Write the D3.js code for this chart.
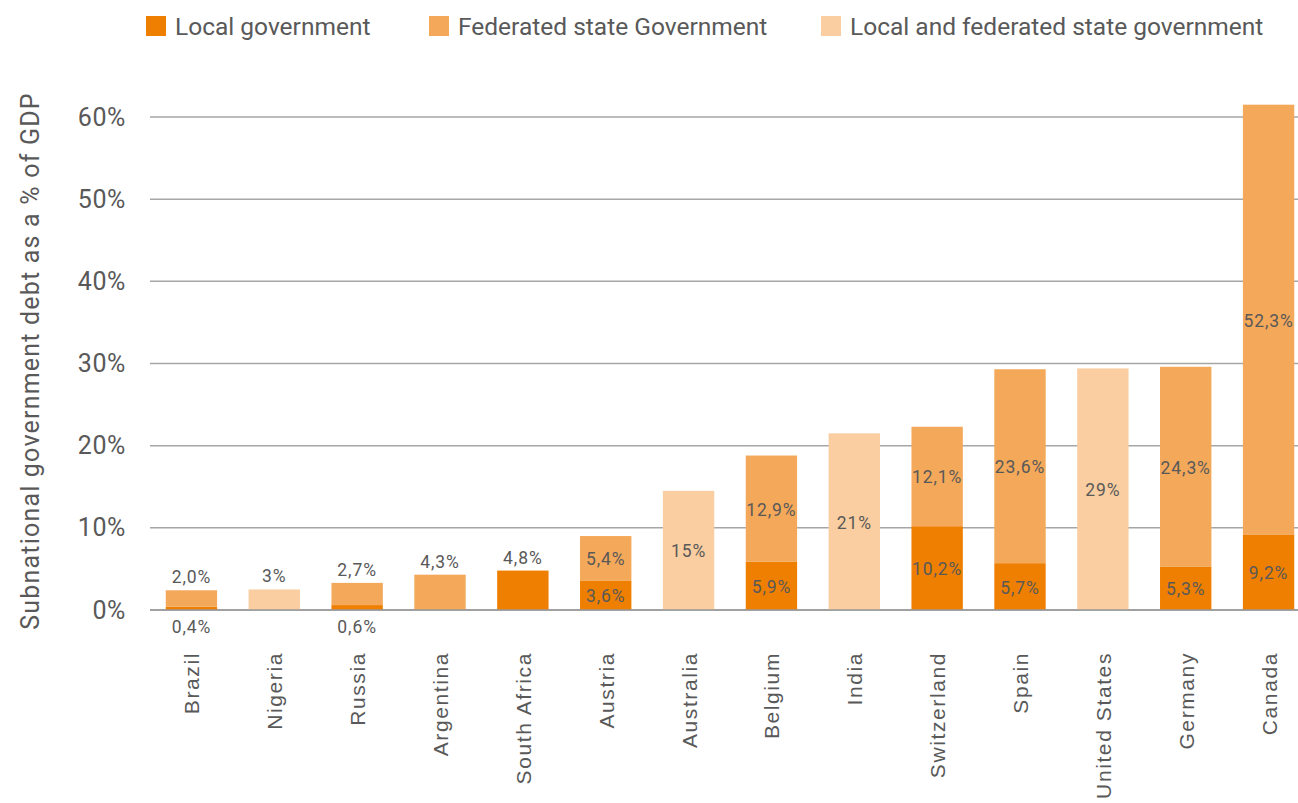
<!DOCTYPE html>
<html><head><meta charset="utf-8">
<script src="https://cdn.jsdelivr.net/npm/d3@7"></script>
<style>body{margin:0;background:#fff}svg{display:block}</style>
</head><body>
<svg id="chart" width="1298" height="803"></svg>
<script>
const countries = ["Brazil","Nigeria","Russia","Argentina","South Africa","Austria","Australia","Belgium","India","Switzerland","Spain","United States","Germany","Canada"];
const localGov =    [0.4, 0,   0.6, 0,   4.8, 3.6, 0,    5.9,  0,    10.2, 5.7,  0,    5.3,  9.2];
const federated =   [2.0, 0,   2.7, 4.3, 0,   5.4, 0,    12.9, 0,    12.1, 23.6, 0,    24.3, 52.3];
const combined =    [0,   2.5, 0,   0,   0,   0,   14.5, 0,    21.5, 0,    0,    29.4, 0,    0];
const localLabels =     ["0,4%","","0,6%","","4,8%","3,6%","","5,9%","","10,2%","5,7%","","5,3%","9,2%"];
const federatedLabels = ["2,0%","","2,7%","4,3%","","5,4%","","12,9%","","12,1%","23,6%","","24,3%","52,3%"];
const combinedLabels =  ["","3%","","","","","15%","","21%","","","29%","",""];
const yTicks = [0,10,20,30,40,50,60];
const seriesNames = ["Local government","Federated state Government","Local and federated state government"];
const colors = ["#ef7f00","#f4a85a","#facea0"];

const svg = d3.select("#chart");
const textColor = "#595959";
const x = d3.scaleBand().domain(countries).range([150,1310]).paddingInner(0.38).paddingOuter(0.19);
const y = d3.scaleLinear().domain([0,60]).range([610,117]);

// y axis labels
const yAxis = d3.axisLeft(y).tickValues(yTicks).tickFormat(d => d + "%").tickSize(0).tickPadding(24);
const gy = svg.append("g").attr("transform","translate(150,0)").call(yAxis);
gy.select(".domain").remove();
gy.selectAll("text").attr("font-family","Roboto").attr("font-size",25).attr("letter-spacing",0.6).attr("fill",textColor);
// gridlines
svg.append("g").selectAll("line").data(yTicks).join("line")
  .attr("x1",150).attr("x2",1298).attr("y1",d=>y(d)).attr("y2",d=>y(d))
  .attr("stroke","#a6a6a6").attr("stroke-width",1.5);

// bars
const bars = svg.append("g");
const labels = svg.append("g");
countries.forEach((c,i)=>{
  const segs = [];
  let base = 0;
  if (combined[i] > 0) { segs.push({v0:0, v1:combined[i], col:colors[2], lab:combinedLabels[i]}); }
  if (localGov[i] > 0) { segs.push({v0:0, v1:localGov[i], col:colors[0], lab:localLabels[i]}); base = localGov[i]; }
  if (federated[i] > 0) { segs.push({v0:base, v1:base+federated[i], col:colors[1], lab:federatedLabels[i]}); }
  segs.forEach(s=>{
    bars.append("rect").attr("x",x(c)).attr("width",x.bandwidth())
      .attr("y",y(s.v1)).attr("height",y(s.v0)-y(s.v1)).attr("fill",s.col);
  });
  const total = d3.max(segs, s=>s.v1);
  segs.forEach(s=>{
    let ty;
    if (total < 5) {
      ty = (s.v0 === 0 && segs.length > 1) ? y(0) + 23 : y(total) - 7;
    } else {
      ty = (y(s.v0)+y(s.v1))/2 + 7;
    }
    labels.append("text").attr("x",x(c)+x.bandwidth()/2).attr("y",ty)
      .attr("text-anchor","middle").attr("font-family","Roboto").attr("font-size",17.5)
      .attr("letter-spacing",0.9).attr("fill",textColor).text(s.lab);
  });
});
// baseline
svg.append("line").attr("x1",150).attr("x2",1298).attr("y1",y(0)).attr("y2",y(0)).attr("stroke","#999").attr("stroke-width",1.5);

// x labels
svg.append("g").selectAll("text").data(countries).join("text")
  .attr("transform",d=>`translate(${x(d)+x.bandwidth()/2+8},652) rotate(-90)`)
  .attr("text-anchor","end").attr("font-family","Liberation Sans").attr("font-size",21)
  .attr("letter-spacing",1.6).attr("fill",textColor).text(d=>d);

// y title
svg.append("text").attr("transform","translate(39,361) rotate(-90)")
  .attr("text-anchor","middle").attr("font-family","Roboto").attr("font-size",25)
  .attr("letter-spacing",1.2).attr("fill",textColor).text("Subnational government debt as a % of GDP");

// legend
const legX = [146,429,821];
const leg = svg.append("g").selectAll("g").data(seriesNames).join("g")
  .attr("transform",(d,i)=>`translate(${legX[i]},16)`);
leg.append("rect").attr("width",20).attr("height",20).attr("fill",(d,i)=>colors[i]);
leg.append("text").attr("x",29).attr("y",19).attr("font-family","Roboto").attr("font-size",24.5)
  .attr("fill",textColor).text(d=>d);
</script>
</body></html>
